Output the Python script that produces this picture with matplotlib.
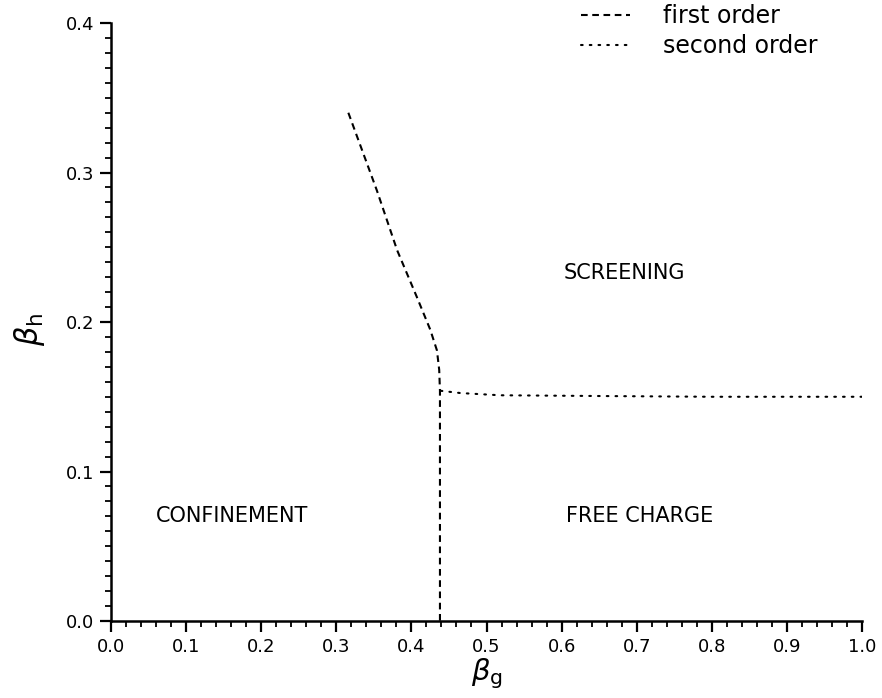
import matplotlib
matplotlib.use("Agg")
import matplotlib.pyplot as plt
from matplotlib.ticker import MultipleLocator

# first order transition line (beta_g, beta_h)
first_x = [0.316, 0.354, 0.381, 0.407, 0.425, 0.434, 0.437, 0.438, 0.438]
first_y = [0.340, 0.288, 0.248, 0.217, 0.195, 0.181, 0.168, 0.154, 0.0]

# second order transition line
second_x = [0.439, 0.465, 0.518, 0.651, 0.80, 1.0]
second_y = [0.154, 0.1525, 0.151, 0.1505, 0.150, 0.150]

phases = ["SCREENING", "CONFINEMENT", "FREE CHARGE"]
phase_x = [0.684, 0.161, 0.704]
phase_y = [0.233, 0.070, 0.070]

plt.rcParams["font.family"] = ["DejaVu Sans"]

fig = plt.figure(figsize=(8.82, 6.98), dpi=100)
ax = fig.add_axes([0.1259, 0.1103, 0.8514, 0.8567])

ax.plot(first_x, first_y, color="black", lw=1.5, ls=(0, (3.2, 2.2)),
        label="first order")
ax.plot(second_x, second_y, color="black", lw=1.5, ls=(0, (0.8, 3.4)),
        dash_capstyle="round", label="second order")

for name, x, y in zip(phases, phase_x, phase_y):
    ax.text(x, y, name, ha="center", va="center", fontsize=15)

ax.set_xlim(0, 1.0)
ax.set_ylim(0, 0.4)
ax.xaxis.set_major_locator(MultipleLocator(0.1))
ax.xaxis.set_minor_locator(MultipleLocator(0.02))
ax.yaxis.set_major_locator(MultipleLocator(0.1))
ax.yaxis.set_minor_locator(MultipleLocator(0.01))
ax.xaxis.set_major_formatter(lambda v, p: f"{v:.1f}")
ax.yaxis.set_major_formatter(lambda v, p: f"{v:.1f}")

for s in ("top", "right"):
    ax.spines[s].set_visible(False)
for s in ("left", "bottom"):
    ax.spines[s].set_linewidth(1.8)
ax.tick_params(which="major", direction="out", length=8, width=1.6,
               labelsize=13, pad=4)
ax.tick_params(which="minor", direction="out", length=4, width=1.3)

ax.set_xlabel(r"$\beta_{\rm g}$", fontsize=21, va="top")
ax.set_ylabel(r"$\beta_{\rm h}$", fontsize=22)
ax.xaxis.set_label_coords(0.5, -0.06)
ax.yaxis.set_label_coords(-0.085, 0.487)

ax.legend(frameon=False, loc="upper left", bbox_to_anchor=(0.597, 1.067),
          fontsize=17, handlelength=2.1, handletextpad=1.4, labelspacing=0.25)

fig.savefig("out.png", dpi=100)
